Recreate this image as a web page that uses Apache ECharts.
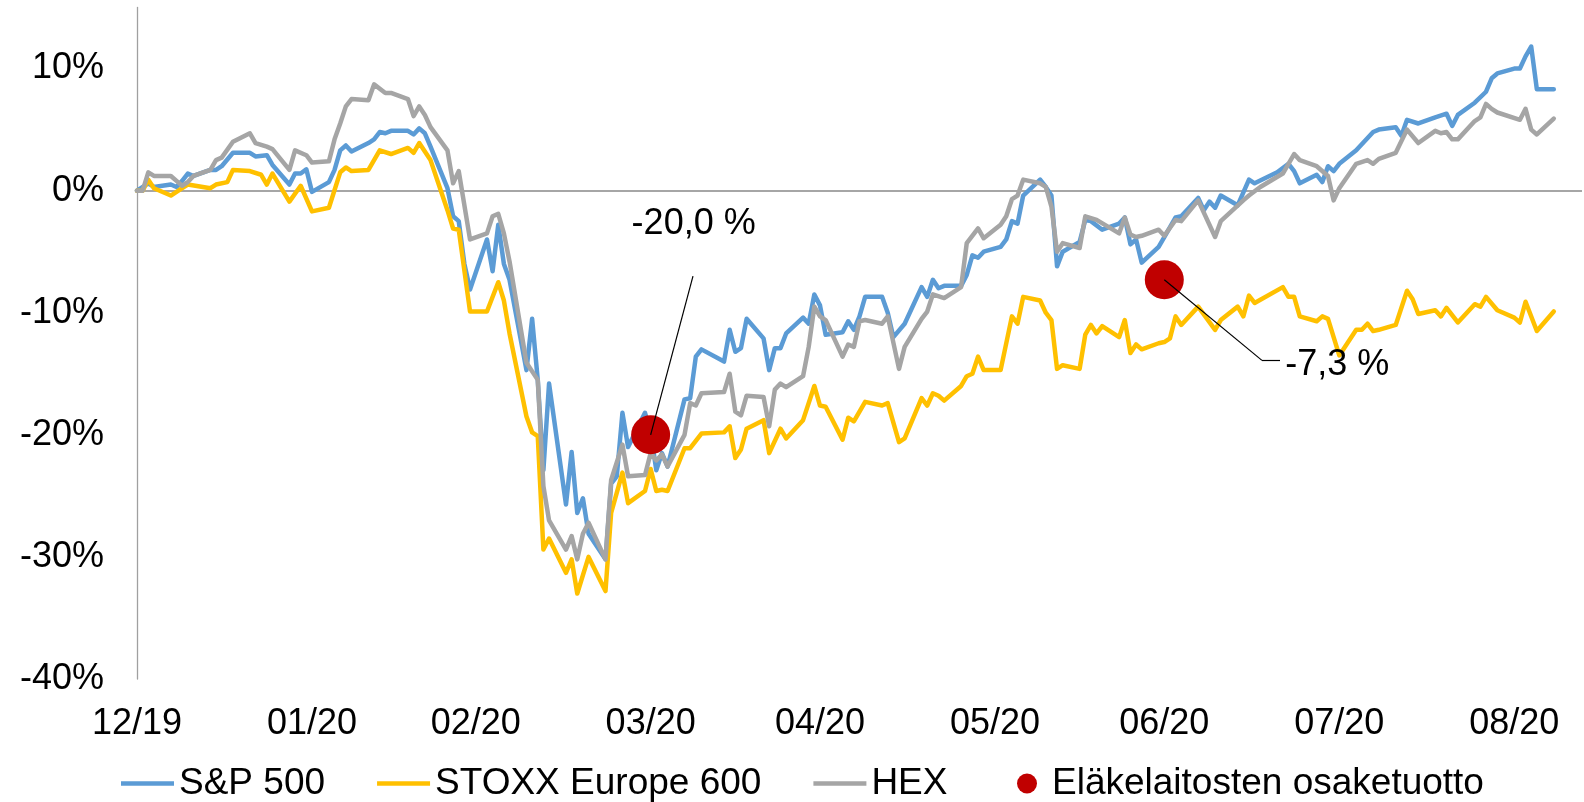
<!DOCTYPE html>
<html>
<head>
<meta charset="utf-8">
<script src="https://cdn.jsdelivr.net/npm/echarts@6/dist/echarts.min.js"></script>
<style>
  html, body { margin: 0; padding: 0; background: #fff; }
  #chart { width: 1584px; height: 802px; }
</style>
</head>
<body>
<div id="chart"></div>
<script>
// x = days counted from 31.12.2019, values = return since start of year, %
const spDays = [0,2,3,6,7,8,9,10,13,14,15,17,20,21,23,24,27,28,29,30,31,34,35,36,37,38,41,42,43,44,45,48,49,50,51,52,55,56,57,58,59,62,63,64,65,66,69,70,71,72,73,76,77,78,79,80,83,84,85,86,87,90,91,92,93,94,97,98,99,100,104,105,106,107,108,111,112,113,114,115,118,119,120,121,122,125,126,127,128,129,132,133,134,136,139,140,141,142,143,146,147,148,149,150,153,154,155,156,157,160,161,162,163,164,167,168,169,171,174,175,176,177,178,181,182,184,185,188,189,190,191,192,195,197,198,202,204,205,206,209,210,211,212,213,216,219,220,223,224,225,227,230,232,233,234,237,239,240,241,244,245,246,247,248,251];
const spVals = [0,0.6,0.3,0.5,0.3,0.8,1.4,1.2,1.7,1.7,2.0,3.1,3.1,2.8,2.9,2.1,0.5,1.4,1.4,1.75,-0.1,0.7,1.7,3.3,3.7,3.2,3.9,4.2,4.8,4.7,4.9,4.9,4.6,5.1,4.7,3.6,0.2,-2.1,-2.5,-6.0,-8.1,-4.0,-6.6,-2.8,-6.0,-7.3,-14.7,-10.5,-15.5,-22.9,-15.8,-25.7,-21.4,-26.4,-25.2,-28.1,-30.2,-24.0,-23.4,-18.2,-21.0,-18.2,-19.8,-22.9,-21.5,-22.6,-17.1,-17.0,-13.6,-13.0,-14.0,-11.4,-13.2,-12.9,-10.5,-12.1,-14.7,-12.9,-12.9,-11.7,-10.4,-10.9,-8.5,-9.4,-11.8,-11.6,-10.7,-11.4,-10.3,-8.7,-8.7,-10.0,-12.0,-10.9,-7.9,-8.7,-7.3,-8.0,-7.8,-7.8,-6.9,-5.3,-5.5,-5.0,-4.6,-4.0,-2.5,-2.7,-0.4,0.9,0.3,-0.4,-6.2,-5.0,-4.2,-2.4,-2.5,-3.2,-2.7,-2.2,-4.4,-4.0,-5.9,-4.6,-3.8,-2.2,-2.1,-0.6,-1.6,-0.9,-1.4,-0.4,-1.2,0.9,0.6,1.5,2.2,1.6,0.6,1.3,0.7,2.0,1.6,2.2,3.3,4.8,5.0,5.2,4.5,5.8,5.5,6.0,6.3,5.3,6.2,7.2,8.1,9.2,9.6,10.0,10.0,11.0,11.8,8.3,8.3];

const stoxxDays = [0,1,2,3,6,8,9,13,14,16,17,20,22,23,24,27,29,31,34,36,37,38,41,43,45,48,49,50,51,52,55,56,57,59,62,64,65,66,69,70,71,72,73,76,77,78,80,83,84,86,87,90,91,92,93,94,97,98,100,104,105,106,107,108,111,112,114,115,118,120,121,122,125,126,127,129,132,133,135,136,139,140,141,142,143,146,147,148,149,150,153,155,156,157,160,161,162,163,164,167,168,169,170,171,174,175,176,177,178,181,182,183,184,185,188,191,192,195,196,197,198,203,204,205,206,209,210,211,213,216,217,218,219,220,223,225,226,227,230,231,232,234,237,238,239,241,244,245,246,248,251];
const stoxxVals = [0,0,0.9,0.2,-0.4,0.2,0.5,0.2,0.5,0.7,1.7,1.6,1.3,0.5,1.4,-0.9,0.4,-1.7,-1.4,1.5,1.9,1.6,1.7,3.3,3.0,3.5,3.1,3.9,3.2,2.5,-1.6,-3.1,-3.2,-9.9,-9.9,-7.5,-9.0,-11.7,-18.5,-19.8,-20.1,-29.4,-28.5,-31.3,-30.2,-33.0,-30.0,-32.8,-26.4,-23.1,-25.6,-24.6,-22.8,-24.6,-24.5,-24.6,-21.1,-21.1,-19.9,-19.8,-19.3,-21.9,-21.2,-19.5,-18.8,-21.5,-19.5,-20.3,-18.8,-16.0,-17.6,-17.7,-20.4,-18.6,-18.9,-17.3,-17.6,-17.4,-20.6,-20.3,-17.0,-17.6,-16.6,-16.8,-17.2,-16.0,-15.2,-15.0,-13.6,-14.7,-14.7,-10.3,-10.9,-8.7,-9.0,-10.0,-10.6,-14.6,-14.3,-14.6,-11.8,-11.0,-11.7,-11.1,-12.0,-10.6,-13.3,-12.6,-13.0,-12.5,-12.4,-12.1,-10.3,-11.0,-9.5,-11.4,-10.6,-9.5,-10.3,-8.6,-9.2,-7.9,-8.7,-8.7,-10.3,-10.7,-10.3,-10.5,-13.5,-11.4,-11.4,-10.9,-11.5,-11.4,-11.0,-8.2,-8.9,-10.1,-9.8,-10.3,-9.6,-10.8,-9.3,-9.5,-8.7,-9.8,-10.4,-10.8,-9.1,-11.5,-9.9];

const hexDays = [0,1,2,3,6,7,8,9,10,13,14,15,17,20,21,23,24,27,28,30,31,34,35,36,37,38,41,42,44,45,48,49,50,51,52,55,56,57,59,62,63,64,65,66,69,71,72,73,76,77,78,79,80,83,84,86,87,90,91,92,93,94,97,98,99,100,104,105,106,107,108,111,112,113,114,115,118,119,120,121,122,125,126,127,128,129,132,133,135,136,139,140,141,143,146,147,149,150,153,154,155,156,157,160,161,162,163,164,167,168,170,174,175,176,177,178,181,182,184,185,188,191,192,196,197,199,203,205,206,209,211,212,213,216,218,219,220,223,225,227,230,231,232,233,234,237,238,239,240,241,245,246,247,248,251];
const hexVals = [0,0,1.5,1.2,1.2,0.8,0.4,0.7,1.2,1.7,2.5,2.7,4.0,4.7,3.9,3.6,3.4,1.7,3.3,2.9,2.3,2.4,4.2,5.5,6.9,7.5,7.4,8.7,8.0,8.0,7.5,6.1,6.9,6.2,5.2,3.3,0.6,1.6,-4.0,-3.5,-2.1,-1.9,-3.5,-5.8,-14.1,-15.5,-24.2,-27.0,-29.4,-28.3,-30.2,-28.1,-27.2,-30.2,-23.7,-20.8,-23.4,-23.3,-21.5,-22.1,-21.6,-22.6,-20.0,-17.4,-17.6,-16.6,-16.5,-15.0,-18.1,-18.4,-16.8,-16.9,-19.3,-16.3,-15.8,-16.1,-15.2,-12.8,-9.5,-10.3,-10.6,-13.6,-12.6,-12.8,-10.7,-10.6,-10.9,-10.3,-14.6,-12.8,-10.5,-9.9,-8.5,-8.8,-7.9,-4.3,-3.1,-3.9,-2.8,-2.1,-0.7,-0.4,0.9,0.6,0.3,-1.3,-5.0,-4.3,-4.7,-2.1,-2.4,-3.5,-2.2,-3.6,-3.8,-3.7,-3.2,-3.7,-2.4,-2.5,-0.8,-3.8,-2.5,-0.8,-0.4,0.3,1.4,3.0,2.5,2.0,1.2,-0.8,0.2,2.2,2.5,2.2,2.6,3.1,5.0,3.9,4.9,4.7,4.8,4.2,4.2,5.7,6.0,7.1,6.7,6.4,5.8,6.7,5.0,4.6,5.9];

// pension funds' equity return at quarter ends (31.3. and 30.6.)
const pensionDays = [91, 182];
const pensionVals = [-20.0, -7.3];
const pensionLabels = ['-20,0 %', '-7,3 %'];

// month ends: 31.12.2019, 31.1., 29.2., 31.3., 30.4., 31.5., 30.6., 31.7., 31.8.
const tickDays = [0, 31, 60, 91, 121, 152, 182, 213, 244];
const tickLabels = ['12/19','01/20','02/20','03/20','04/20','05/20','06/20','07/20','08/20'];

const FONT = 'Liberation Sans';
const LINE_ICON = 'path://M0,0H53V4.5H0Z';
const toPairs = (days, vals) => days.map((d, i) => [d, vals[i]]);

const chart = echarts.init(document.getElementById('chart'));

const lineBase = {
    type: 'line',
    symbol: 'none',
    showSymbol: false,
    smooth: false
};

const legendText = { fontSize: 37, color: '#000', fontFamily: FONT };

const option = {
    animation: false,
    textStyle: { fontFamily: FONT },
    grid: { left: 137, right: 2, top: 7.5, bottom: 123, outerBoundsMode: 'none' },
    legend: [
        {
            left: 121,
            top: 765,
            padding: 0,
            itemWidth: 53,
            itemHeight: 20,
            itemGap: 52,
            textStyle: legendText,
            data: [
                { name: 'S&P 500', icon: LINE_ICON },
                { name: 'STOXX Europe 600', icon: LINE_ICON },
                { name: 'HEX', icon: LINE_ICON }
            ]
        },
        {
            left: 1017,
            top: 765,
            padding: 0,
            itemWidth: 40,
            itemHeight: 20,
            textStyle: legendText,
            data: [{ name: 'Eläkelaitosten osaketuotto', icon: 'circle' }]
        }
    ],
    xAxis: {
        type: 'value',
        min: 0,
        max: 256,
        axisLine: { show: false },
        axisTick: { show: false },
        splitLine: { show: false },
        axisLabel: {
            customValues: tickDays,
            formatter: (v) => {
                const i = tickDays.indexOf(v);
                return i >= 0 ? tickLabels[i] : '';
            },
            fontSize: 36,
            color: '#000',
            fontFamily: FONT,
            margin: 27,
            hideOverlap: false
        }
    },
    yAxis: {
        type: 'value',
        min: -40,
        max: 15,
        interval: 10,
        axisLine: { show: true, lineStyle: { color: '#a0a0a0', width: 1.3 } },
        axisTick: { show: false },
        splitLine: { show: false },
        axisLabel: {
            formatter: (v) => (v > 10 ? '' : v + '%'),
            fontSize: 36,
            color: '#000',
            fontFamily: FONT,
            margin: 33
        }
    },
    series: [
        {
            ...lineBase,
            name: 'S&P 500',
            color: '#5B9BD5',
            lineStyle: { width: 4.5, color: '#5B9BD5', cap: 'round', join: 'round' },
            data: toPairs(spDays, spVals),
            markLine: {
                silent: true,
                z: 1,
                symbol: ['none', 'none'],
                label: { show: false },
                lineStyle: { color: '#a6a6a6', width: 2, type: 'solid' },
                data: [{ yAxis: 0 }]
            }
        },
        {
            ...lineBase,
            name: 'STOXX Europe 600',
            color: '#FFC000',
            lineStyle: { width: 4.5, color: '#FFC000', cap: 'round', join: 'round' },
            data: toPairs(stoxxDays, stoxxVals)
        },
        {
            ...lineBase,
            name: 'HEX',
            color: '#A5A5A5',
            lineStyle: { width: 4.5, color: '#A5A5A5', cap: 'round', join: 'round' },
            data: toPairs(hexDays, hexVals)
        },
        {
            type: 'scatter',
            name: 'Eläkelaitosten osaketuotto',
            color: '#C00000',
            symbol: 'circle',
            symbolSize: 39,
            z: 4,
            itemStyle: { color: '#C00000', opacity: 1 },
            label: {
                show: true,
                position: 'inside',
                formatter: (p) => pensionLabels[p.dataIndex],
                fontSize: 36,
                color: '#000',
                fontFamily: FONT
            },
            data: [
                { value: [pensionDays[0], pensionVals[0]], label: { offset: [43, -211], align: 'center' } },
                { value: [pensionDays[1], pensionVals[1]], label: { offset: [121, 85], align: 'left' } }
            ],
            markLine: {
                silent: true,
                z: 6,
                symbol: ['none', 'none'],
                label: { show: false },
                lineStyle: { color: '#000', width: 1.2, type: 'solid' },
                data: [
                    [{ coord: [pensionDays[0], pensionVals[0]] }, { coord: [98.5, -7.0] }],
                    [{ coord: [pensionDays[1], pensionVals[1]] }, { coord: [199.3, -13.9] }],
                    [{ coord: [199.3, -13.9] }, { coord: [202.5, -13.9] }]
                ]
            }
        }
    ]
};

chart.setOption(option);
</script>
</body>
</html>
